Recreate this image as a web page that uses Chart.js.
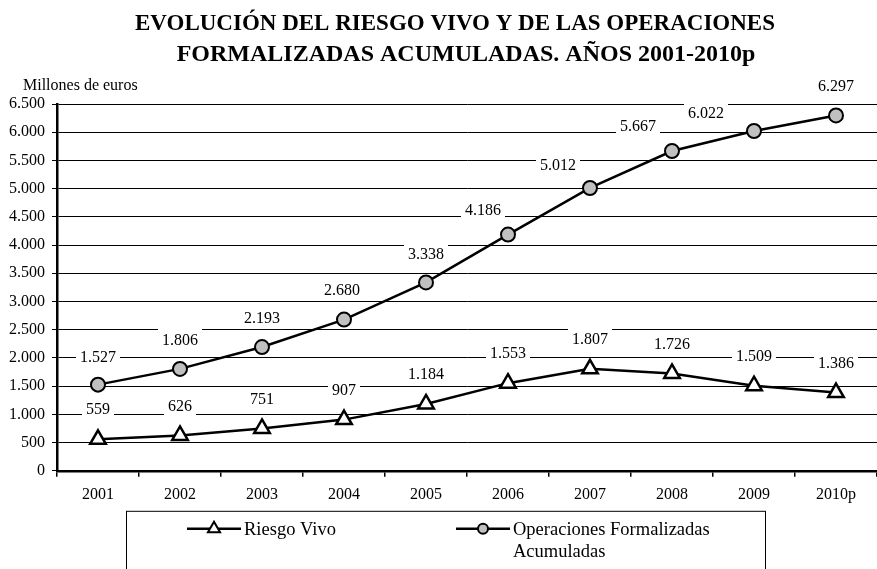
<!DOCTYPE html>
<html>
<head>
<meta charset="utf-8">
<script src="https://cdn.jsdelivr.net/npm/chart.js@4.4.0/dist/chart.umd.min.js"></script>
<style>
html, body { margin: 0; padding: 0; background: #fff; }
#wrap { position: relative; width: 877px; height: 569px; }
</style>
</head>
<body>
<div id="wrap"><canvas id="chart" width="877" height="569"></canvas></div>
<script>
var years = ["2001", "2002", "2003", "2004", "2005", "2006", "2007", "2008", "2009", "2010p"];
var riesgoVivo = [559, 626, 751, 907, 1184, 1553, 1807, 1726, 1509, 1386];
var operaciones = [1527, 1806, 2193, 2680, 3338, 4186, 5012, 5667, 6022, 6297];
var yMin = 0, yMax = 6500, yStep = 500;

var titleLines = ["EVOLUCIÓN DEL RIESGO VIVO Y DE LAS OPERACIONES", "FORMALIZADAS ACUMULADAS. AÑOS 2001-2010p"];
var unitLabel = "Millones de euros";
var nameRiesgo = "Riesgo Vivo";
var nameOperaciones = ["Operaciones Formalizadas", "Acumuladas"];

// where the value labels sit relative to their point (a few were nudged left in the original)
var riesgoLabelShift = [0, -30];
var opLabelShift = [[0, -28], [0, -29], [0, -29], [-2, -30], [0, -29], [-25, -25], [-32, -23], [-34, -25], [-48, -18], [0, -30]];

var serif = "'Liberation Serif', 'Times New Roman', serif";
Chart.defaults.font.family = serif;
Chart.defaults.color = '#000';

function fmt(v) {
	return String(v).replace(/\B(?=(\d{3})+(?!\d))/g, '.');
}

// value labels with white boxes that cut the gridlines
var valueLabels = {
	id: 'valueLabels',
	beforeDatasetsDraw: function (chart) {
		var ctx = chart.ctx;
		ctx.save();
		ctx.font = '16px ' + serif;
		ctx.textAlign = 'center';
		ctx.textBaseline = 'middle';
		chart.data.datasets.forEach(function (ds, di) {
			var meta = chart.getDatasetMeta(di);
			meta.data.forEach(function (pt, i) {
				var s = di === 1 ? opLabelShift[i] : riesgoLabelShift;
				var x = pt.x + s[0], y = pt.y + s[1];
				var txt = fmt(ds.data[i]);
				var w = ctx.measureText(txt).width + 8;
				ctx.fillStyle = '#fff';
				ctx.fillRect(x - w / 2, y - 11, w, 22);
				ctx.fillStyle = '#000';
				ctx.fillText(txt, x, y + 1);
			});
		});
		ctx.restore();
	}
};

function marker(ctx, style, x, y, r) {
	ctx.beginPath();
	if (style === 'triangle') {
		ctx.moveTo(x, y - r);
		ctx.lineTo(x + r * 0.866, y + r * 0.5);
		ctx.lineTo(x - r * 0.866, y + r * 0.5);
		ctx.closePath();
	} else {
		ctx.arc(x, y, r, 0, Math.PI * 2);
	}
	ctx.fill();
	ctx.stroke();
}

// title, unit label and the boxed legend at the bottom
var extras = {
	id: 'extras',
	afterDraw: function (chart) {
		var ctx = chart.ctx, a = chart.chartArea;
		ctx.save();
		ctx.fillStyle = '#000';
		ctx.textBaseline = 'middle';

		ctx.textAlign = 'center';
		ctx.font = 'bold 23px ' + serif;
		ctx.fillText(titleLines[0], 455, 24);
		ctx.font = 'bold 24px ' + serif;
		ctx.fillText(titleLines[1], 466, 55);

		ctx.font = '16px ' + serif;
		ctx.textAlign = 'left';
		ctx.fillText(unitLabel, a.left - 34, a.top - 18);

		var top = a.bottom + 40;
		ctx.strokeStyle = '#000';
		ctx.lineWidth = 1;
		ctx.strokeRect(126.5, top + 0.5, 639, 80);

		var items = [
			{ x: 187, ds: 0, text: [nameRiesgo] },
			{ x: 456, ds: 1, text: nameOperaciones }
		];
		items.forEach(function (it) {
			var ds = chart.data.datasets[it.ds];
			var y = top + 18;
			ctx.strokeStyle = ds.borderColor;
			ctx.lineWidth = 2.5;
			ctx.beginPath();
			ctx.moveTo(it.x, y);
			ctx.lineTo(it.x + 54, y);
			ctx.stroke();
			ctx.fillStyle = ds.pointBackgroundColor;
			ctx.lineWidth = 2;
			marker(ctx, ds.pointStyle, it.x + 27, y, ds.pointStyle === 'triangle' ? 7 : 5);
			ctx.font = '18.5px ' + serif;
			ctx.fillStyle = '#000';
			it.text.forEach(function (t, k) {
				ctx.fillText(t, it.x + 57, y + k * 22 + 1);
			});
		});
		ctx.restore();
	}
};

var ctx = document.getElementById('chart');
var myChart = new Chart(ctx, {
	type: 'line',
	data: {
		labels: years,
		datasets: [
			{
				label: nameRiesgo,
				data: riesgoVivo,
				borderColor: '#000',
				borderWidth: 2.5,
				pointStyle: 'triangle',
				pointRadius: 9,
				pointBorderWidth: 2.5,
				pointBackgroundColor: '#fff',
				pointBorderColor: '#000',
				tension: 0
			},
			{
				label: nameOperaciones.join(' '),
				data: operaciones,
				borderColor: '#000',
				borderWidth: 2.5,
				pointStyle: 'circle',
				pointRadius: 7,
				pointBorderWidth: 2,
				pointBackgroundColor: '#c0c0c0',
				pointBorderColor: '#000',
				tension: 0
			}
		]
	},
	options: {
		responsive: false,
		animation: false,
		devicePixelRatio: 1,
		layout: { autoPadding: false, padding: { left: 0, right: 0, top: 104, bottom: 57 } },
		plugins: {
			legend: { display: false },
			tooltip: { enabled: false },
			title: { display: false }
		},
		scales: {
			x: {
				offset: true,
				grid: { offset: true, drawOnChartArea: false, drawTicks: true, tickLength: 6, color: '#000', lineWidth: 1.5 },
				border: { display: true, color: '#000', width: 2.5 },
				ticks: { font: { size: 16 }, color: '#000', padding: 8, maxRotation: 0 }
			},
			y: {
				min: yMin,
				max: yMax,
				afterFit: function (scale) { scale.width = 57; },
				grid: { color: '#000', lineWidth: 1, drawTicks: true, tickLength: 5 },
				border: { display: true, color: '#000', width: 2.5 },
				ticks: {
					stepSize: yStep,
					font: { size: 16 },
					color: '#000',
					padding: 7,
					callback: function (v) { return fmt(v); }
				}
			}
		}
	},
	plugins: [valueLabels, extras]
});
</script>
</body>
</html>
